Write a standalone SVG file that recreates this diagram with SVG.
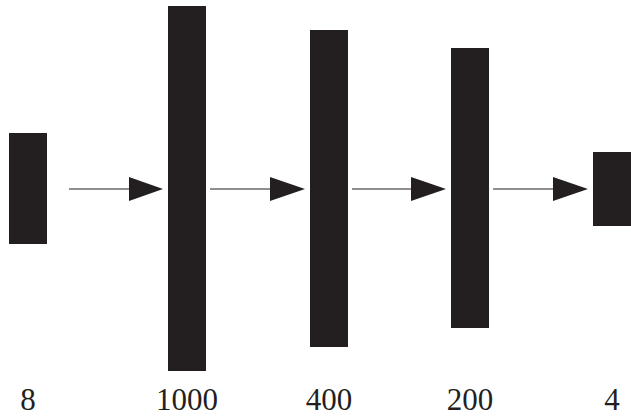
<svg xmlns="http://www.w3.org/2000/svg" width="631" height="418" viewBox="0 0 631 418">
<style>
.layer{fill:#231f20}
.lbl{font-family:"Liberation Serif","DejaVu Serif",serif;font-size:31px;fill:#231f20;text-anchor:middle}
.conn{stroke:#231f20;stroke-width:1.2;fill:none}
.head{fill:#231f20}
</style>
<rect width="631" height="418" fill="#ffffff"/>
<g id="node-8"><rect class="layer" x="9" y="133" width="38" height="111"/><text class="lbl" x="28" y="410">8</text></g>
<g id="node-1000"><rect class="layer" x="168" y="6" width="38" height="365"/><text class="lbl" x="187" y="410">1000</text></g>
<g id="node-400"><rect class="layer" x="310" y="30" width="38" height="317"/><text class="lbl" x="329" y="410">400</text></g>
<g id="node-200"><rect class="layer" x="451" y="48" width="38" height="280"/><text class="lbl" x="470" y="410">200</text></g>
<g id="node-4"><rect class="layer" x="593" y="152" width="38" height="74"/><text class="lbl" x="612" y="410">4</text></g>
<g id="connectors">
<line class="conn" x1="69" y1="189" x2="130" y2="189"/><polygon class="head" points="129,177 163,189 129,201"/>
<line class="conn" x1="210" y1="189" x2="271" y2="189"/><polygon class="head" points="270,177 305,189 270,201"/>
<line class="conn" x1="352" y1="189" x2="412" y2="189"/><polygon class="head" points="411,177 446,189 411,201"/>
<line class="conn" x1="493" y1="189" x2="554" y2="189"/><polygon class="head" points="553,177 588,189 553,201"/>
</g>
</svg>
